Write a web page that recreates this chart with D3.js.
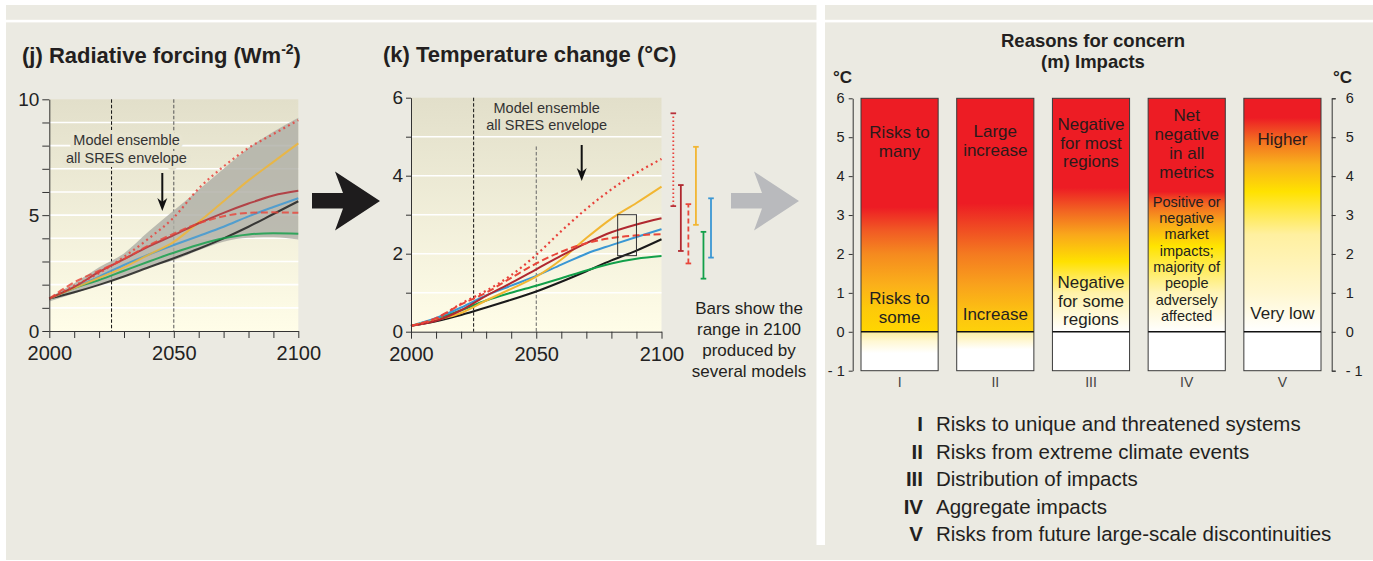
<!DOCTYPE html>
<html>
<head>
<meta charset="utf-8">
<script src="https://cdn.jsdelivr.net/npm/d3@7"></script>
<style>
    body { margin: 0; background: #ffffff; }
    svg { display: block; font-family: "Liberation Sans", Arial, sans-serif; }
    .axis path, .axis line { stroke: #333; stroke-width: 1; }
    .axis text { fill: #222; }
</style>
</head>
<body>
<svg id="chart" width="1373" height="561"></svg>
<script>
// ---- data ----
const years = [2000, 2010, 2020, 2030, 2040, 2050, 2060, 2070, 2080, 2090, 2100];
const scenarios = ["A1FI", "A1B", "A1T", "A2", "B1", "B2", "IS92a"];

// (j) radiative forcing, W m-2
const forcingA1FI  = [1.4, 1.95, 2.5, 3.2, 4.0, 4.9, 6.15, 7.1, 7.9, 8.5, 9.1];
const forcingA1B   = [1.4, 1.9, 2.55, 3.1, 3.65, 4.14, 4.65, 5.1, 5.5, 5.85, 6.05];
const forcingA1T   = [1.4, 2.1, 2.6, 3.1, 3.7, 4.2, 4.65, 4.95, 5.1, 5.12, 5.1];
const forcingA2    = [1.4, 1.85, 2.3, 2.75, 3.3, 3.85, 4.7, 5.6, 6.5, 7.3, 8.1];
const forcingB1    = [1.4, 1.85, 2.2, 2.6, 3.0, 3.38, 3.72, 4.0, 4.17, 4.22, 4.2];
const forcingB2    = [1.4, 1.85, 2.35, 2.85, 3.3, 3.71, 4.1, 4.5, 4.95, 5.35, 5.73];
const forcingIS92a = [1.4, 1.67, 1.99, 2.35, 2.75, 3.14, 3.55, 4.0, 4.5, 5.05, 5.6];
const envelopeUpper = [1.44, 2.06, 2.75, 3.35, 4.3, 5.2, 6.1, 7.0, 7.9, 8.6, 9.2];
const envelopeLower = [1.27, 1.62, 1.98, 2.35, 2.75, 3.05, 3.48, 3.85, 4.02, 4.05, 3.95];

// (k) temperature change, deg C
const tempA1FI  = [0.15, 0.33, 0.72, 1.05, 1.45, 1.97, 2.58, 3.15, 3.65, 4.07, 4.43];
const tempA1B   = [0.15, 0.28, 0.55, 0.92, 1.25, 1.6, 1.95, 2.27, 2.55, 2.75, 2.91];
const tempA1T   = [0.15, 0.35, 0.7, 1.0, 1.38, 1.75, 2.05, 2.27, 2.4, 2.47, 2.5];
const tempA2    = [0.15, 0.3, 0.48, 0.8, 1.1, 1.41, 1.85, 2.4, 2.9, 3.3, 3.72];
const tempB1    = [0.15, 0.33, 0.55, 0.8, 1.0, 1.18, 1.37, 1.57, 1.75, 1.87, 1.94];
const tempB2    = [0.15, 0.35, 0.62, 0.93, 1.18, 1.43, 1.72, 2.0, 2.22, 2.43, 2.63];
const tempIS92a = [0.15, 0.27, 0.43, 0.62, 0.82, 1.03, 1.28, 1.55, 1.83, 2.08, 2.37];

// range in 2100 produced by several models (A1FI .. B2)
const range2100Low  = [3.22, 2.07, 1.75, 2.74, 1.36, 1.9];
const range2100High = [5.6, 3.76, 3.27, 4.74, 2.56, 3.42];
// boxed region on the temperature panel
const boxYears = [2082.5, 2090];
const boxTemps = [1.95, 3.0];

// (m) reasons for concern
const rfcColumns = ["I", "II", "III", "IV", "V"];
const rfcNames = [
    "Risks to unique and threatened systems",
    "Risks from extreme climate events",
    "Distribution of impacts",
    "Aggregate impacts",
    "Risks from future large-scale discontinuities"
];
const rfcHigh = [["Risks to", "many"], ["Large", "increase"], ["Negative", "for most", "regions"],
    ["Net", "negative", "in all", "metrics"], ["Higher"]];
const rfcLow = [["Risks to", "some"], ["Increase"], ["Negative", "for some", "regions"],
    ["Positive or", "negative", "market", "impacts;", "majority of", "people", "adversely", "affected"], ["Very low"]];
const rfcTicks = [-1, 0, 1, 2, 3, 4, 5, 6];

// ---- styles ----
const RED = "#ed1c24";
const seriesStyle = {
    A1FI:  { color: "#e8403a", dash: "2,3.4", width: 2.2 },
    A1B:   { color: "#b0282f", dash: null, width: 2 },
    A1T:   { color: "#e8463a", dash: "7,3.5", width: 2 },
    A2:    { color: "#f2b632", dash: null, width: 2 },
    B1:    { color: "#12a04a", dash: null, width: 2 },
    B2:    { color: "#3a97d4", dash: null, width: 2 },
    IS92a: { color: "#1a1a1a", dash: null, width: 2 }
};
const rfcStops = [
    [[-1, "#ffffff"], [-0.55, "#ffffff"], [-0.25, "#fff8d4"], [-0.01, "#fdeea0"], [0, "#ffd600"], [0.6, "#fdc90a"],
     [1.2, "#fbb01a"], [2, "#f58a1f"], [2.6, "#f15a24"], [3.2, RED], [6, RED]],
    [[-1, "#ffffff"], [-0.45, "#ffffff"], [-0.2, "#fff6cc"], [-0.01, "#fdf0a8"], [0, "#fdd10a"], [0.5, "#fcc212"],
     [1.2, "#f9a21c"], [2, "#f47a20"], [2.8, "#ef4123"], [3.3, RED], [6, RED]],
    [[-1, "#ffffff"], [0, "#ffffff"], [1, "#fff2a8"], [1.8, "#ffe100"], [2.5, "#f9a71b"],
     [3.1, "#f26522"], [3.7, RED], [6, RED]],
    [[-1, "#ffffff"], [0, "#ffffff"], [1, "#fff4b8"], [2.2, "#ffe400"], [2.8, "#f9a81b"],
     [3.3, "#f26522"], [3.6, RED], [6, RED]],
    [[-1, "#ffffff"], [0, "#ffffff"], [1, "#fff7d0"], [2.5, "#fff0a0"], [3.6, "#ffe200"], [4.3, "#f9b11b"],
     [4.9, "#f37021"], [5.5, RED], [6, RED]]
];
// text placement inside columns (pixel y of first line, line step, font size)
const rfcHighLayout = [[131.7, 19], [131, 19], [124, 18.7], [115, 19], [139.3, 19]];
const rfcLowLayout = [[298, 19], [314, 19], [282, 18.7], [201.7, 16.3], [313.3, 19]];

const svg = d3.select("#chart");
const defs = svg.append("defs");

// ---- backgrounds ----
svg.append("rect").attr("x", 6).attr("y", 5).attr("width", 1367).attr("height", 555).attr("fill", "#ebeae2");
svg.append("rect").attr("x", 0).attr("y", 19.8).attr("width", 1373).attr("height", 2.6).attr("fill", "#ffffff");
svg.append("rect").attr("x", 816.5).attr("y", 0).attr("width", 8.5).attr("height", 545).attr("fill", "#ffffff");

const plotGrad = defs.append("linearGradient").attr("id", "plotbg")
    .attr("x1", 0).attr("y1", 0).attr("x2", 0).attr("y2", 1);
plotGrad.append("stop").attr("offset", 0).attr("stop-color", "#e2dfca");
plotGrad.append("stop").attr("offset", 1).attr("stop-color", "#fffde8");

function seriesTable(arrays) {
    return scenarios.map((s, i) => ({
        name: s,
        points: years.map((yr, j) => ({ year: yr, value: arrays[i][j] }))
    }));
}

function drawPanel(cfg) {
    const g = svg.append("g");
    const x = d3.scaleLinear().domain([2000, 2100]).range(cfg.xRange);
    const y = d3.scaleLinear().domain([0, cfg.yMax]).range(cfg.yRange);

    g.append("rect")
        .attr("x", x(2000)).attr("y", y(cfg.yMax))
        .attr("width", x(2100) - x(2000)).attr("height", y(0) - y(cfg.yMax))
        .attr("fill", "url(#plotbg)");

    // white grid
    g.append("g").selectAll("line")
        .data(d3.range(1, cfg.yMax))
        .join("line")
        .attr("x1", x(2000)).attr("x2", x(2100))
        .attr("y1", d => y(d)).attr("y2", d => y(d))
        .attr("stroke", "#ffffff").attr("stroke-width", 1.6);

    // vertical reference lines
    cfg.vlines.forEach(v => {
        g.append("line")
            .attr("x1", x(v.year)).attr("x2", x(v.year))
            .attr("y1", y(v.top)).attr("y2", y(0))
            .attr("stroke", v.color).attr("stroke-width", 1)
            .attr("stroke-dasharray", "3.5,2");
    });

    // label with halo that breaks the reference lines
    const lbl = g.append("text")
        .attr("text-anchor", "middle")
        .attr("font-size", 14.5)
        .attr("fill", "#333")
        .attr("stroke", cfg.haloColor).attr("stroke-width", 8)
        .attr("paint-order", "stroke")
        .attr("stroke-linejoin", "round");
    lbl.append("tspan").attr("x", cfg.labelX).attr("y", cfg.labelY[0]).text("Model ensemble");
    lbl.append("tspan").attr("x", cfg.labelX).attr("y", cfg.labelY[1]).text("all SRES envelope");

    if (cfg.envelope) {
        const area = d3.area()
            .x(d => x(d.year)).y0(d => y(d.lo)).y1(d => y(d.hi))
            .curve(d3.curveMonotoneX);
        g.append("path")
            .datum(years.map((yr, i) => ({ year: yr, lo: envelopeLower[i], hi: envelopeUpper[i] })))
            .attr("d", area)
            .attr("fill", "#afaea6").attr("opacity", 0.82);
    }

    const line = d3.line()
        .x(d => x(d.year)).y(d => y(d.value))
        .curve(d3.curveMonotoneX);
    // draw order: black first, dotted last
    const order = ["IS92a", "B1", "B2", "A2", "A1B", "A1T", "A1FI"];
    const table = seriesTable(cfg.arrays);
    order.forEach(name => {
        const s = table.find(d => d.name === name);
        const st = seriesStyle[name];
        g.append("path")
            .datum(s.points)
            .attr("d", line)
            .attr("fill", "none")
            .attr("stroke", st.color)
            .attr("stroke-width", st.width)
            .attr("stroke-dasharray", st.dash)
            .attr("opacity", cfg.lineOpacity);
    });

    // arrow pointing to envelope
    const ax = cfg.arrow.x;
    g.append("line")
        .attr("x1", ax).attr("x2", ax)
        .attr("y1", cfg.arrow.y0).attr("y2", cfg.arrow.y1 - 6)
        .attr("stroke", "#111").attr("stroke-width", 2);
    g.append("path")
        .attr("d", `M${ax - 5},${cfg.arrow.y1 - 13} L${ax},${cfg.arrow.y1} L${ax + 5},${cfg.arrow.y1 - 13} L${ax},${cfg.arrow.y1 - 9} Z`)
        .attr("fill", "#111");

    // axes
    g.append("g").attr("class", "axis")
        .attr("transform", `translate(${x(2000)},0)`)
        .call(d3.axisLeft(y).tickValues(d3.range(0, cfg.yMax + 1))
            .tickFormat(d => cfg.yLabels.includes(d) ? d : "")
            .tickSize(cfg.tickLen).tickSizeOuter(0).tickPadding(3))
        .call(a => a.selectAll("text").attr("font-size", 19));
    g.append("g").attr("class", "axis")
        .attr("transform", `translate(0,${y(0)})`)
        .call(d3.axisBottom(x).tickValues(years)
            .tickFormat(d => d % 50 === 0 ? d : "")
            .tickSize(7).tickSizeOuter(0).tickPadding(8))
        .call(a => a.selectAll("text").attr("font-size", 20));

    // title
    const t = svg.append("text")
        .attr("x", cfg.titleX).attr("y", cfg.titleY)
        .attr("font-size", 22).attr("font-weight", "bold").attr("fill", "#231f20");
    cfg.title(t);

    return { g, x, y };
}

// ---- (j) ----
drawPanel({
    xRange: [49.3, 298.3], yRange: [331, 99.3], yMax: 10, yLabels: [0, 5, 10], tickLen: 7,
    arrays: [forcingA1FI, forcingA1B, forcingA1T, forcingA2, forcingB1, forcingB2, forcingIS92a],
    envelope: true, lineOpacity: 0.82,
    vlines: [{ year: 2025, top: 10, color: "#111" }, { year: 2050, top: 10, color: "#555" }],
    labelX: 126.5, labelY: [145, 163], haloColor: "#e8e5d1",
    arrow: { x: 162.3, y0: 173, y1: 211 },
    titleX: 22, titleY: 63,
    title: t => {
        t.append("tspan").text("(j) Radiative forcing (Wm");
        t.append("tspan").attr("font-size", 14).attr("dy", -9).text("-2");
        t.append("tspan").attr("dy", 9).text(")");
    }
});

// ---- (k) ----
const k = drawPanel({
    xRange: [411, 661.5], yRange: [331.7, 97.7], yMax: 6, yLabels: [0, 2, 4, 6], tickLen: 5,
    arrays: [tempA1FI, tempA1B, tempA1T, tempA2, tempB1, tempB2, tempIS92a],
    envelope: false, lineOpacity: 1,
    vlines: [{ year: 2025, top: 6, color: "#111" }, { year: 2050, top: 4.75, color: "#666" }],
    labelX: 546.7, labelY: [112.7, 130], haloColor: "none",
    arrow: { x: 581.7, y0: 145, y1: 181 },
    titleX: 383, titleY: 62,
    title: t => t.text("(k) Temperature change (°C)")
});

k.g.append("rect")
    .attr("x", k.x(boxYears[0])).attr("y", k.y(boxTemps[1]))
    .attr("width", k.x(boxYears[1]) - k.x(boxYears[0]))
    .attr("height", k.y(boxTemps[0]) - k.y(boxTemps[1]))
    .attr("fill", "none").attr("stroke", "#333").attr("stroke-width", 1);

// range bars for 2100
const barX = d3.scalePoint().domain(scenarios.slice(0, 6)).range([673.3, 711]);
scenarios.slice(0, 6).forEach((s, i) => {
    const st = seriesStyle[s];
    const bx = barX(s);
    const bg = svg.append("g");
    bg.append("line")
        .attr("x1", bx).attr("x2", bx)
        .attr("y1", k.y(range2100Low[i])).attr("y2", k.y(range2100High[i]))
        .attr("stroke", st.color).attr("stroke-width", 1.8)
        .attr("stroke-dasharray", st.dash ? (s === "A1FI" ? "1.6,2.4" : "5,3") : null);
    [range2100Low[i], range2100High[i]].forEach(v => {
        bg.append("line")
            .attr("x1", bx - 2.8).attr("x2", bx + 2.8)
            .attr("y1", k.y(v)).attr("y2", k.y(v))
            .attr("stroke", s === "A1FI" ? "#b8303a" : st.color).attr("stroke-width", 1.8);
    });
});

const note = svg.append("text").attr("text-anchor", "middle").attr("font-size", 17).attr("fill", "#231f20");
["Bars show the", "range in 2100", "produced by", "several models"].forEach((s, i) => {
    note.append("tspan").attr("x", 749).attr("y", 314 + i * 21).text(s);
});

// big arrows
function bigArrow(x0, color) {
    svg.append("path")
        .attr("d", `M${x0},193 L${x0 + 31},193 L${x0 + 23},171.5 L${x0 + 68},201 L${x0 + 23},230.5 L${x0 + 31},208.5 L${x0},208.5 Z`)
        .attr("fill", color);
}
bigArrow(312, "#1e1c1d");
bigArrow(731, "#b9babd");

// ---- (m) reasons for concern ----
const yM = d3.scaleLinear().domain([-1, 6]).range([370.7, 98.3]);
const xM = d3.scaleBand().domain(rfcColumns).range([861, 1321]).paddingInner(0.194);

svg.append("text").attr("x", 1093).attr("y", 46.5).attr("text-anchor", "middle")
    .attr("font-size", 18.5).attr("font-weight", "bold").attr("fill", "#231f20").text("Reasons for concern");
svg.append("text").attr("x", 1093).attr("y", 68).attr("text-anchor", "middle")
    .attr("font-size", 18.5).attr("font-weight", "bold").attr("fill", "#231f20").text("(m) Impacts");

rfcColumns.forEach((c, i) => {
    const grad = defs.append("linearGradient").attr("id", "rfc" + i)
        .attr("gradientUnits", "userSpaceOnUse")
        .attr("x1", 0).attr("x2", 0).attr("y1", yM(-1)).attr("y2", yM(6));
    rfcStops[i].forEach(([v, col]) => {
        grad.append("stop").attr("offset", (v + 1) / 7).attr("stop-color", col);
    });
    const x0 = xM(c), w = xM.bandwidth(), cx = x0 + w / 2;
    svg.append("rect")
        .attr("x", x0).attr("y", yM(6)).attr("width", w).attr("height", yM(-1) - yM(6))
        .attr("fill", `url(#rfc${i})`).attr("stroke", "#3a3a3a").attr("stroke-width", 1);
    svg.append("line")
        .attr("x1", x0).attr("x2", x0 + w).attr("y1", yM(0)).attr("y2", yM(0))
        .attr("stroke", "#111").attr("stroke-width", 1.6);

    const hi = svg.append("text").attr("text-anchor", "middle").attr("font-size", 17).attr("fill", "#2b1a1a");
    rfcHigh[i].forEach((s, j) => {
        hi.append("tspan").attr("x", cx).attr("y", rfcHighLayout[i][0] + 6 + j * rfcHighLayout[i][1]).text(s);
    });
    const lo = svg.append("text").attr("text-anchor", "middle")
        .attr("font-size", i === 3 ? 14.5 : 17).attr("fill", "#231f20");
    rfcLow[i].forEach((s, j) => {
        lo.append("tspan").attr("x", cx).attr("y", rfcLowLayout[i][0] + (i === 3 ? 5 : 6) + j * rfcLowLayout[i][1]).text(s);
    });

    svg.append("text").attr("x", cx).attr("y", 387).attr("text-anchor", "middle")
        .attr("font-size", 14).attr("fill", "#444").text(c);
});

svg.append("g").attr("class", "axis")
    .attr("transform", "translate(852.7,0)")
    .call(d3.axisLeft(yM).tickValues(rfcTicks).tickFormat(d => d < 0 ? "- 1" : d)
        .tickSize(4).tickSizeOuter(0).tickPadding(4))
    .call(a => a.selectAll("text").attr("font-size", 14.5));
svg.append("g").attr("class", "axis")
    .attr("transform", "translate(1331.7,0)")
    .call(d3.axisRight(yM).tickValues(rfcTicks).tickFormat(d => d < 0 ? "- 1" : d)
        .tickSize(4).tickSizeOuter(4).tickPadding(10))
    .call(a => a.selectAll("text").attr("font-size", 14.5));

svg.append("text").attr("x", 833).attr("y", 83).attr("font-size", 17).attr("font-weight", "bold")
    .attr("fill", "#231f20").text("°C");
svg.append("text").attr("x", 1333).attr("y", 83).attr("font-size", 17).attr("font-weight", "bold")
    .attr("fill", "#231f20").text("°C");

// legend
rfcColumns.forEach((c, i) => {
    const yy = 431 + i * 27.5;
    svg.append("text").attr("x", 923).attr("y", yy).attr("text-anchor", "end")
        .attr("font-size", 20.5).attr("font-weight", "bold").attr("fill", "#231f20").text(c);
    svg.append("text").attr("x", 936).attr("y", yy)
        .attr("font-size", 20.5).attr("fill", "#231f20").text(rfcNames[i]);
});
</script>
</body>
</html>
